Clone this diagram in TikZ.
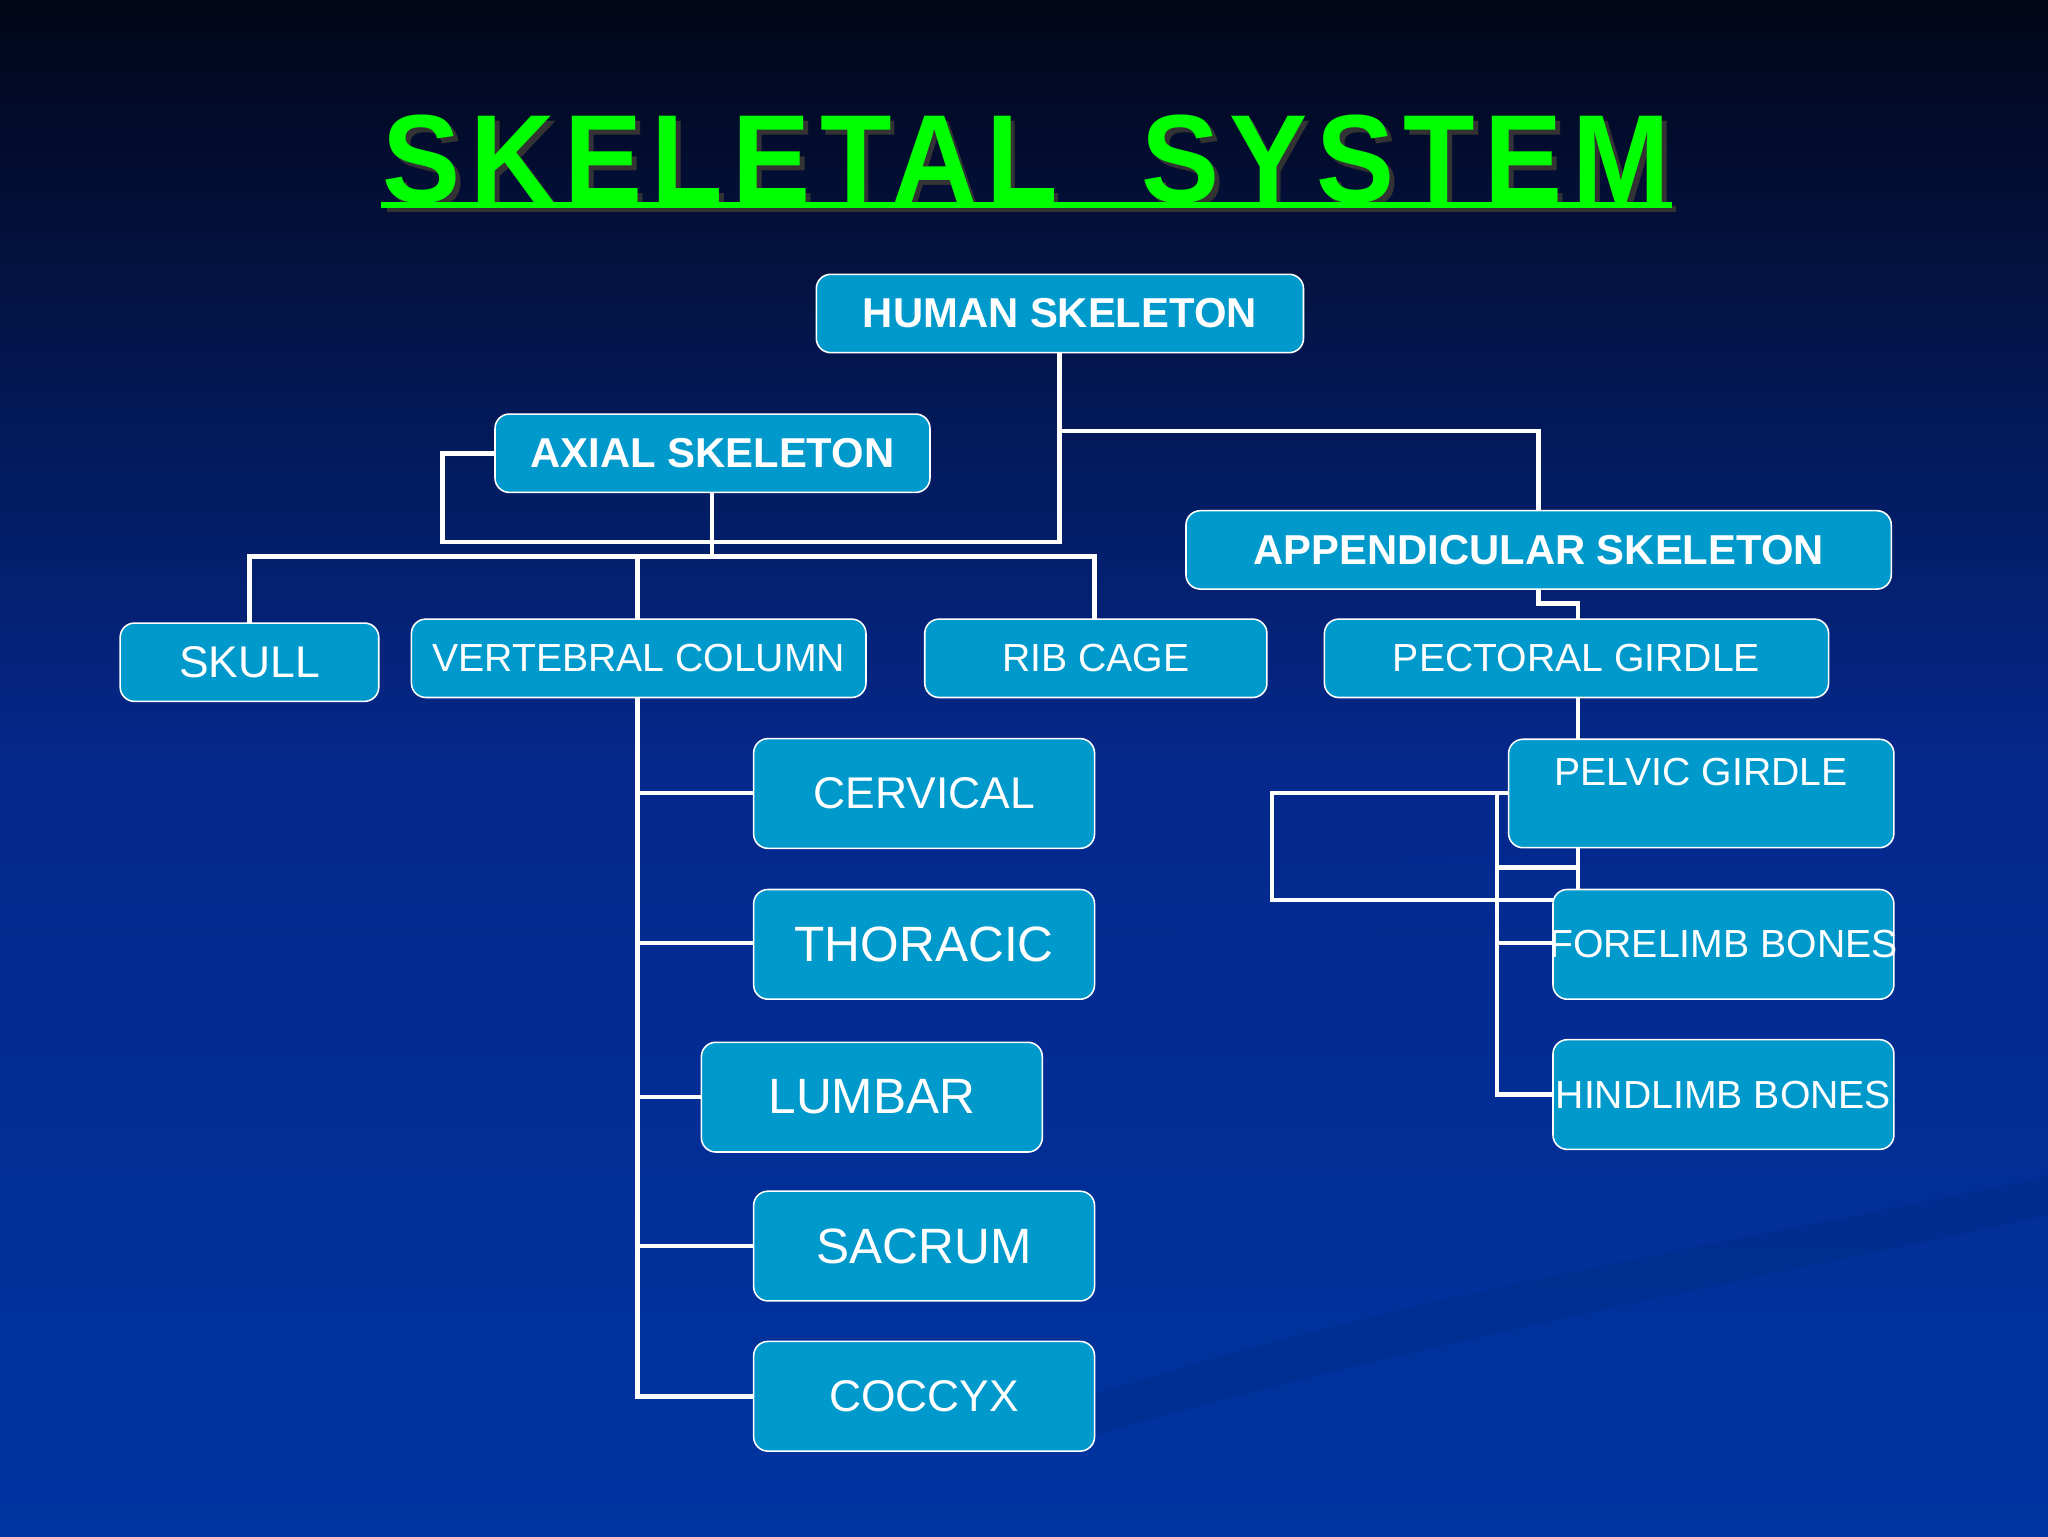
\documentclass[tikz,border=0pt]{standalone}
\usepackage{fontspec}
\setmainfont{Liberation Sans}
\newfontfamily\ttlfont[LetterSpace=8]{Liberation Sans}
\usepackage{graphicx}
\definecolor{boxc}{RGB}{0,153,204}
\definecolor{bgtop}{RGB}{2,6,24}
\definecolor{bgmid}{RGB}{4,40,140}
\definecolor{bgbot}{RGB}{0,52,160}
\definecolor{ttl}{RGB}{0,255,0}
\newcommand{\ttltext}{\ttlfont\bfseries SKELETAL\ \ SYSTEM}
\begin{document}
\begin{tikzpicture}[x=1pt,y=-1pt,
  bx/.style={draw=white,line width=1.2pt,fill=boxc,rounded corners=11pt,text=white,inner sep=0pt},
  ln/.style={draw=white,line width=3.5pt}]
\useasboundingbox (0,0) rectangle (1568,1176);
\shade[top color=bgtop,bottom color=bgbot,middle color=bgmid,shading angle=0] (0,0) rectangle (1568,1176);
\fill[bgmid!70!bgbot,opacity=0.5] (900,720) .. controls (1000,620) and (1400,640) .. (1480,780) .. controls (1420,700) and (1050,660) .. (940,760) -- cycle;
\fill[bgbot!80!black,opacity=0.3] (800,1080) .. controls (1100,980) and (1400,940) .. (1568,900) -- (1568,930) .. controls (1400,970) and (1100,1020) .. (800,1110) -- cycle;
% title
\draw[black!80,line width=4pt] (296,160) -- (1283,160);
\node[anchor=north west,inner sep=0pt] (title) at (293,88) {\resizebox{985pt}{67pt}{\makebox[0pt][l]{\raisebox{-0.04em}{\hspace{0.04em}\color{black!80}\ttltext}}\color{ttl}\ttltext}};
\draw[ttl,line width=4pt] (292,157) -- (1280,157);
% connectors
\path[ln] (811,270) -- (811,415) -- (339,415) -- (339,347) -- (379,347);
\path[ln] (811,330) -- (1178,330) -- (1178,391);
\path[ln] (545,377) -- (545,426);
\path[ln] (191,477) -- (191,426) -- (838,426) -- (838,474);
\path[ln] (488,426) -- (488,474);
\path[ln] (1178,451) -- (1178,462) -- (1208,462) -- (1208,474);
\path[ln] (488,534) -- (488,1069) -- (577,1069);
\path[ln] (488,607) -- (577,607);
\path[ln] (488,722) -- (577,722);
\path[ln] (488,840) -- (537,840);
\path[ln] (488,954) -- (577,954);
\path[ln] (1208,534) -- (1208,681);
\path[ln] (1155,607) -- (974,607) -- (974,689) -- (1189,689);
\path[ln] (1146,607) -- (1146,838) -- (1189,838);
\path[ln] (1146,664) -- (1208,664);
\path[ln] (1146,722) -- (1189,722);
% boxes
\node[bx,minimum width=373pt,minimum height=60pt,font=\bfseries\fontsize{32}{36}\selectfont] (human) at (811.5,240) {HUMAN SKELETON};
\node[bx,minimum width=333pt,minimum height=60pt,font=\bfseries\fontsize{32}{36}\selectfont] (axial) at (545.5,347) {AXIAL SKELETON};
\node[bx,minimum width=540pt,minimum height=60pt,font=\bfseries\fontsize{32}{36}\selectfont] (app) at (1178,421) {APPENDICULAR SKELETON};
\node[bx,minimum width=198pt,minimum height=60pt,font=\fontsize{34}{38}\selectfont] (skull) at (191,507) {SKULL};
\node[bx,minimum width=348pt,minimum height=60pt,font=\fontsize{30}{34}\selectfont] (vert) at (489,504) {VERTEBRAL COLUMN};
\node[bx,minimum width=262pt,minimum height=60pt,font=\fontsize{30}{34}\selectfont] (rib) at (839,504) {RIB CAGE};
\node[bx,minimum width=386pt,minimum height=60pt,font=\fontsize{30}{34}\selectfont] (pect) at (1207,504) {PECTORAL GIRDLE};
\node[bx,minimum width=295pt,minimum height=83pt] (pelv) at (1302.5,607.5) {};
\node[text=white,font=\fontsize{30}{34}\selectfont,inner sep=0pt] (pelvl) at (1302.5,591) {PELVIC GIRDLE};
\node[bx,minimum width=261pt,minimum height=84pt,font=\fontsize{34}{38}\selectfont] (cerv) at (707.5,607.5) {CERVICAL};
\node[bx,minimum width=261pt,minimum height=84pt,font=\fontsize{38}{42}\selectfont] (thor) at (707.5,723) {THORACIC};
\node[bx,minimum width=261pt,minimum height=84pt,font=\fontsize{38}{42}\selectfont] (lumb) at (667.5,840) {LUMBAR};
\node[bx,minimum width=261pt,minimum height=84pt,font=\fontsize{38}{42}\selectfont] (sacr) at (707.5,954) {SACRUM};
\node[bx,minimum width=261pt,minimum height=84pt,font=\fontsize{34}{38}\selectfont] (cocc) at (707.5,1069) {COCCYX};
\node[bx,minimum width=261pt,minimum height=84pt] (fore) at (1319.5,723) {};
\node[text=white,font=\fontsize{30}{34}\selectfont,inner sep=0pt] (forel) at (1319.5,723) {FORELIMB BONES};
\node[bx,minimum width=261pt,minimum height=84pt] (hind) at (1319.5,838) {};
\node[text=white,font=\fontsize{30}{34}\selectfont,inner sep=0pt] (hindl) at (1319.5,838) {HINDLIMB BONES};
\end{tikzpicture}
\end{document}
